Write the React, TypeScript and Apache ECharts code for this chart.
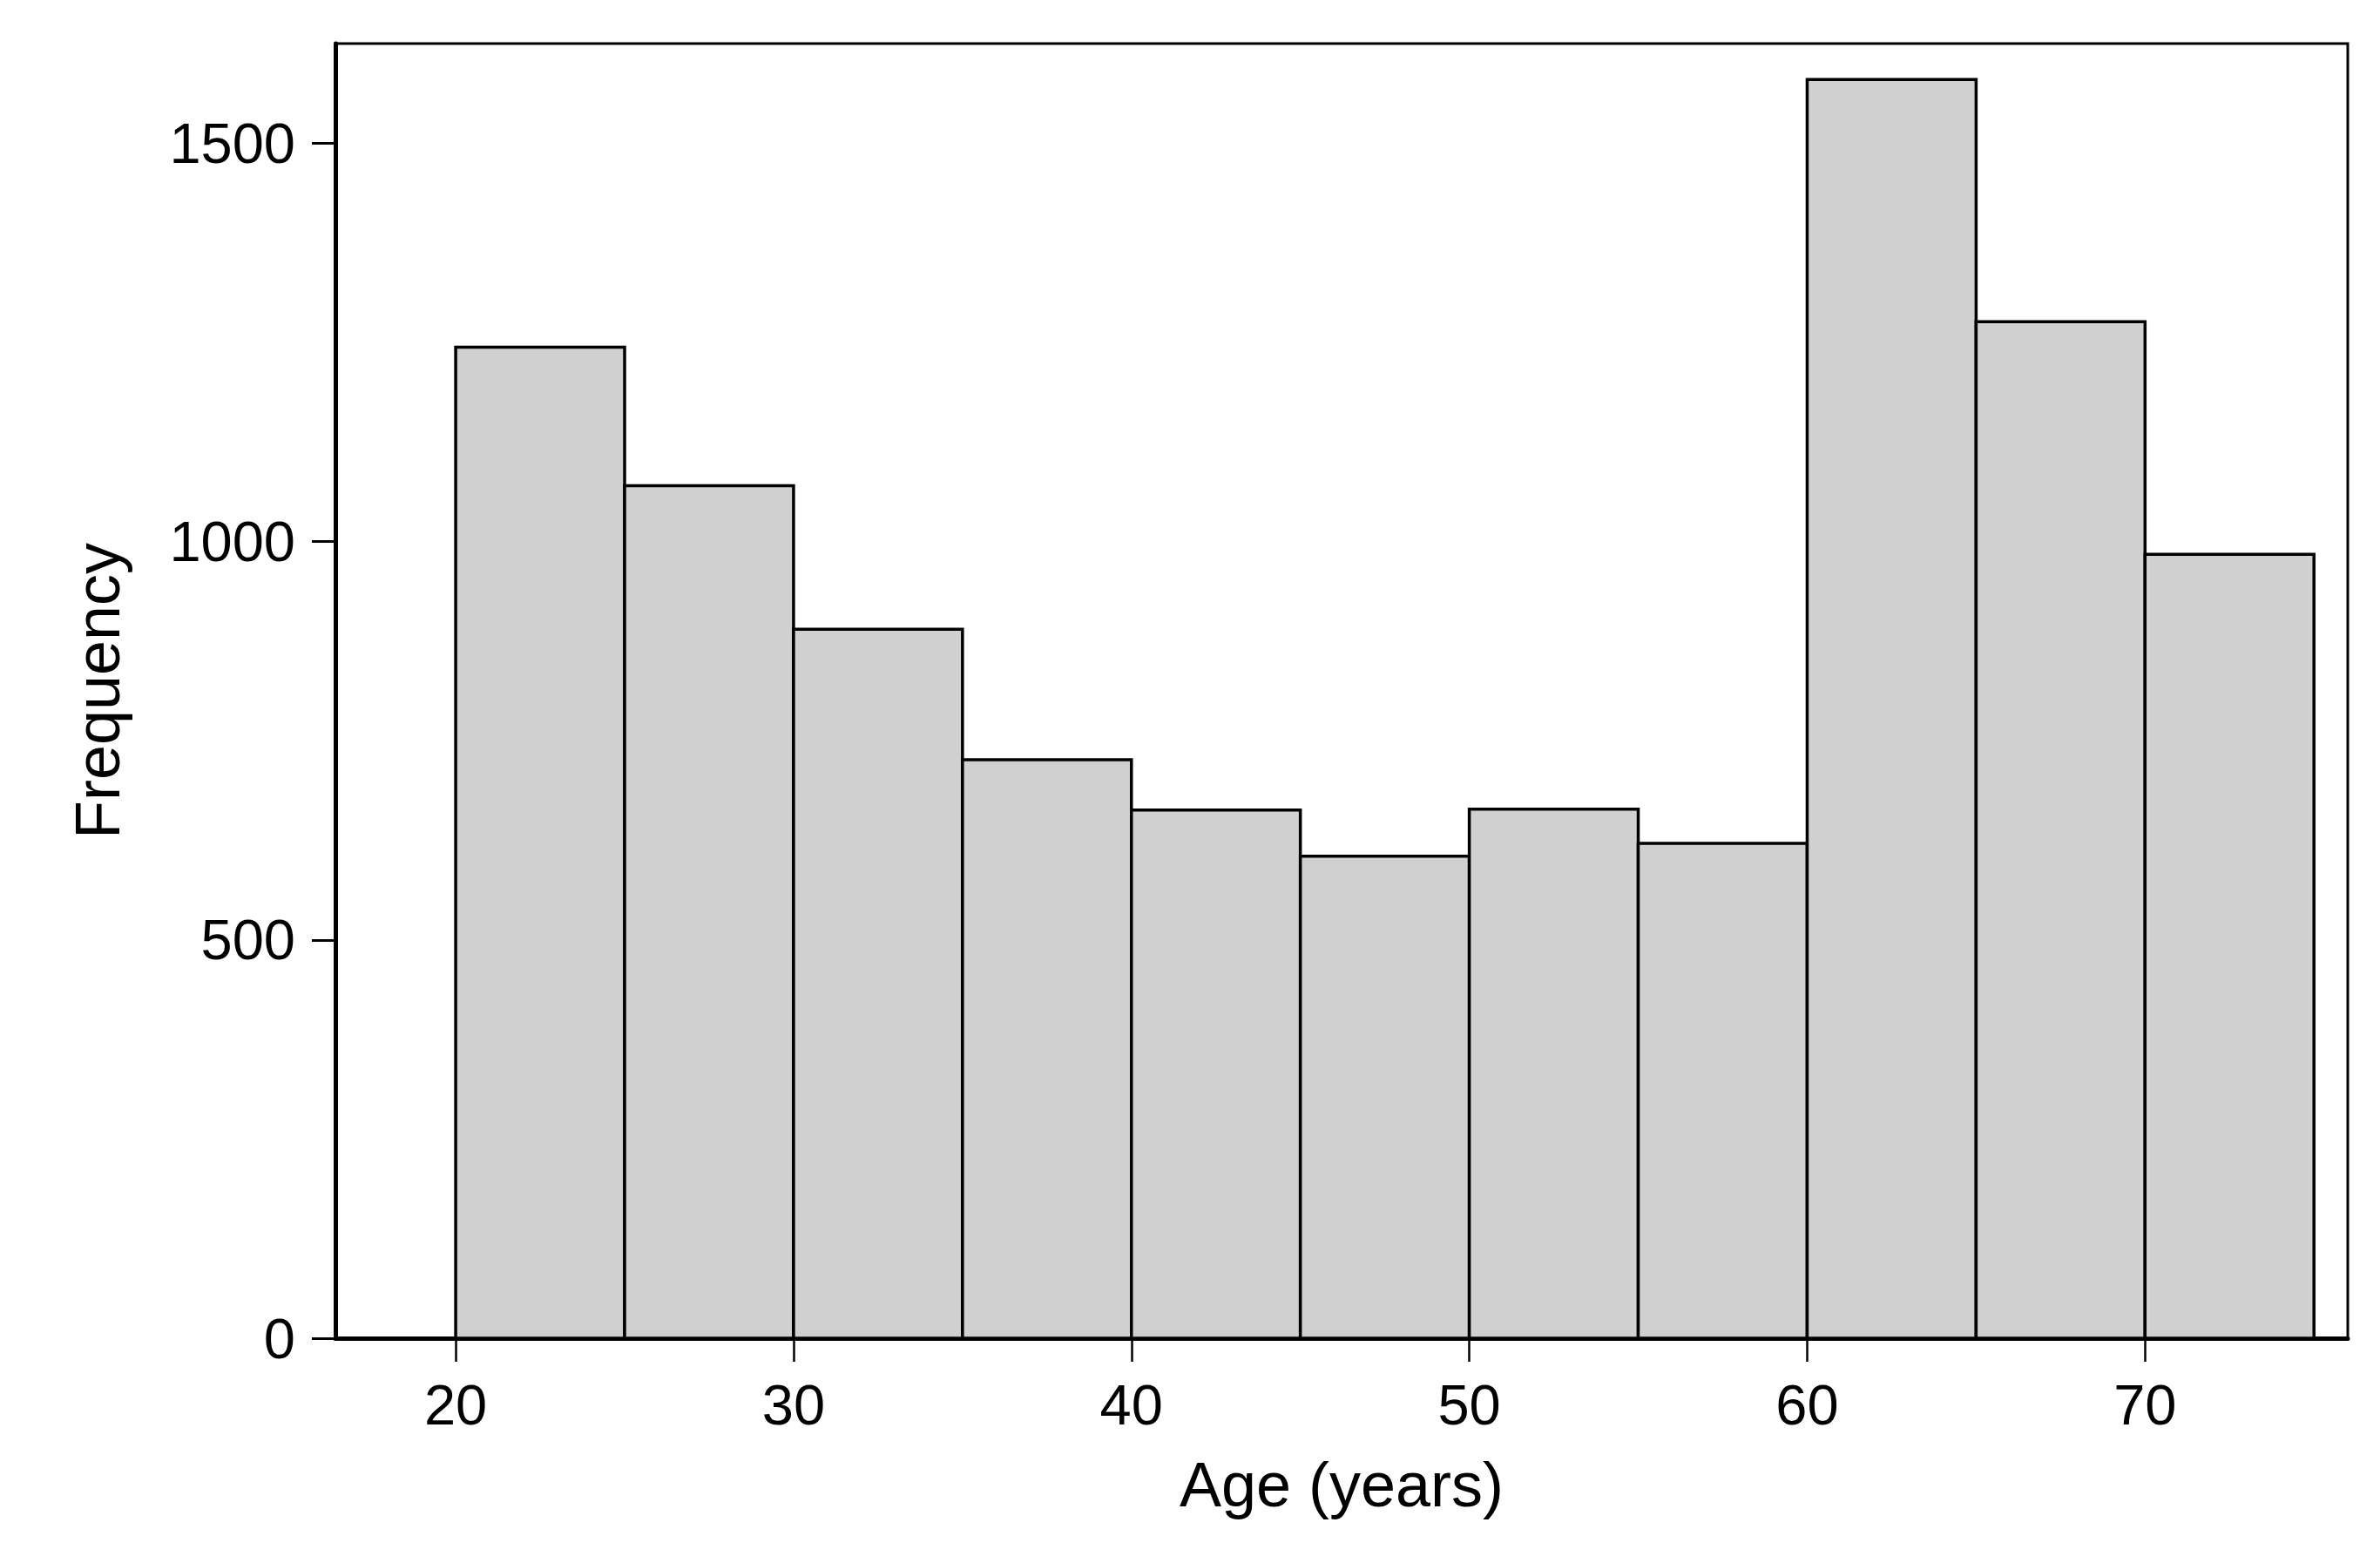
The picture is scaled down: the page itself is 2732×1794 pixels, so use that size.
import React, { useEffect, useRef } from "react";
import * as echarts from "echarts";

const binStart = [20, 25, 30, 35, 40, 45, 50, 55, 60, 65, 70];
const binEnd = [25, 30, 35, 40, 45, 50, 55, 60, 65, 70, 75];
const counts = [1244, 1070, 890, 726, 663, 605, 664, 621, 1580, 1276, 984];
const xTicks = [20, 30, 40, 50, 60, 70];
const xTitle = "Age (years)";
const yTitle = "Frequency";

const FONT = "'Liberation Sans', Arial, Helvetica, sans-serif";

export default function App() {
  const ref = useRef<HTMLDivElement | null>(null);
  useEffect(() => {
    document.body.style.margin = "0";
    if (!ref.current) return;
    const chart = echarts.init(ref.current, null, { renderer: "svg" });
    const data = binStart.map((s, i) => [s, binEnd[i], counts[i]]);
    chart.setOption({
      animation: false,
      backgroundColor: "#ffffff",
      grid: {
        left: 385,
        right: 37,
        top: 50,
        bottom: 258,
        show: true,
        borderColor: "#000",
        borderWidth: 3,
        backgroundColor: "#fff",
      },
      xAxis: {
        type: "value",
        min: 16.44,
        max: 76.0,
        name: xTitle,
        nameLocation: "middle",
        nameGap: 132,
        nameTextStyle: { fontFamily: FONT, fontSize: 72, color: "#000" },
        axisLine: { show: true, onZero: false, lineStyle: { color: "#000", width: 5 } },
        axisTick: {
          show: true,
          length: 27,
          lineStyle: { color: "#000", width: 2.5 },
          customValues: xTicks,
        },
        axisLabel: {
          customValues: xTicks,
          margin: 44,
          fontFamily: FONT,
          fontSize: 65,
          color: "#000",
          formatter: (v: number) => String(v),
        },
        splitLine: { show: false },
      },
      yAxis: {
        type: "value",
        min: 0,
        max: 1625,
        interval: 500,
        name: yTitle,
        nameLocation: "middle",
        nameGap: 237,
        nameTextStyle: { fontFamily: FONT, fontSize: 72, color: "#000" },
        axisLine: { show: true, lineStyle: { color: "#000", width: 5 } },
        axisTick: { show: true, length: 27, lineStyle: { color: "#000", width: 3 } },
        axisLabel: {
          margin: 46,
          fontFamily: FONT,
          fontSize: 65,
          color: "#000",
          showMaxLabel: false,
          formatter: (v: number) => String(v),
        },
        splitLine: { show: false },
      },
      series: [
        {
          type: "custom",
          data,
          encode: { x: [0, 1], y: 2 },
          renderItem: (params: any, api: any) => {
            const x0 = api.value(0);
            const x1 = api.value(1);
            const y = api.value(2);
            const p0 = api.coord([x0, y]);
            const p1 = api.coord([x1, 0]);
            return {
              type: "rect",
              shape: { x: p0[0], y: p0[1], width: p1[0] - p0[0], height: p1[1] - p0[1] },
              style: { fill: "#d0d0d0", stroke: "#000", lineWidth: 3.5 },
            };
          },
        },
      ],
    });
    return () => chart.dispose();
  }, []);
  return <div ref={ref} style={{ width: 2732, height: 1794 }} />;
}
